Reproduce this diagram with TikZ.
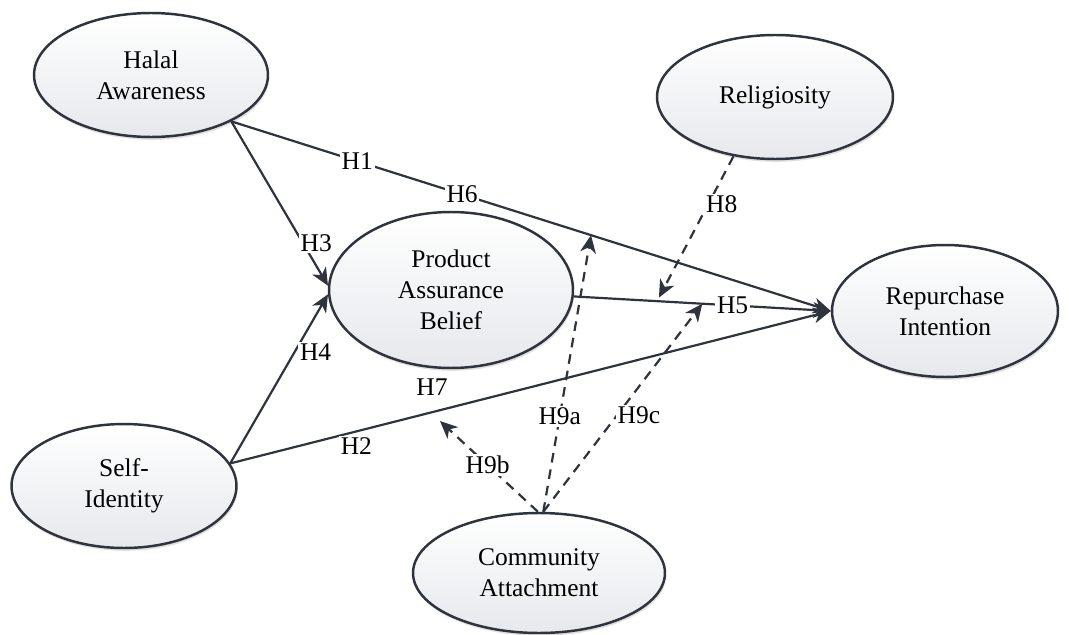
\documentclass[tikz,border=0pt]{standalone}
\usepackage{fontspec}
\setmainfont{Liberation Serif}
\usepackage{xcolor}
\usepackage{tikz}
\usetikzlibrary {positioning}
\usetikzlibrary{arrows.meta,shapes.geometric,shadows}
\definecolor{inkline}{HTML}{2E333D}
\definecolor{ovalbot}{HTML}{E6E8EC}
\tikzset{edge/.style = {draw=inkline, line width=1.25pt, -{Stealth[length=10pt,width=9pt,inset=3pt]}}}

\begin{document}
\begin{tikzpicture}[x=0.02cm,y=-0.02cm,
    main node/.style={ellipse,draw=inkline,line width=1.4pt,top color=white,bottom color=ovalbot,
        drop shadow={opacity=0.25,shadow xshift=0.6pt,shadow yshift=-1.6pt},
        align=center,inner sep=0pt,font=\fontsize{14.5}{17.5}\selectfont},
    lbl/.style={fill=white,inner sep=1pt,font=\fontsize{14.5}{17}\selectfont},
    modline/.style={dash pattern=on 5.5pt off 4pt}]
                \fill[white] (0,0) rectangle (1069,635);
                \useasboundingbox (0,0) rectangle (1069,635);

                \node[main node, minimum width=4.68cm, minimum height=2.48cm] (ha) at (151,75) {Halal\\Awareness};
                \node[main node, minimum width=4.72cm, minimum height=2.48cm] (rel) at (775,97) {Religiosity};
                \node[main node, minimum width=4.88cm, minimum height=3.12cm] (pab) at (451,290) {Product\\Assurance\\Belief};
                \node[main node, minimum width=4.52cm, minimum height=2.64cm] (rep) at (945,311) {Repurchase\\Intention};
                \node[main node, minimum width=4.5cm, minimum height=2.48cm] (si) at (124,486) {Self-\\Identity};
                \node[main node, minimum width=5.04cm, minimum height=2.4cm] (ca) at (539,573) {Community\\Attachment};

                \path[every edge/.style={edge}, every node/.style={lbl}]
                    (ha.-30) edge node [pos=0.21] {H1} node [pos=0.385] {H6}
                        node [coordinate, pos=0.6] (h9aend) {} (rep.west)
                    (ha.-30) edge node [pos=0.74, right=-0.1cm] {H3} (pab.178)
                    (si.12) edge node [pos=0.66, right=0.05cm] {H4} (pab.182)
                    (si.12) edge node [pos=0.336, yshift=0.5cm] {H7} node [pos=0.21, yshift=-0.29cm] {H2}
                        node [coordinate, pos=0.334] (h9bend) {} (rep.west)
                    (pab.-3) edge node [pos=0.618] {H5} node [coordinate, pos=0.324] (h8end) {}
                        node [coordinate, pos=0.5] (h9cend) {} (rep.west)
                    ;

                \path[every edge/.style={edge, modline}, every node/.style={lbl}]
                    (rel.235) edge[shorten >=0.08cm] node [pos=0.33, right=-0.1cm] {H8} (h8end)
                    (ca.86) edge node [pos=0.345] {H9a} (h9aend)
                    (ca.91) edge[shorten >=0.25cm] node [pos=0.47] {H9b} (h9bend)
                    (ca.86) edge node [pos=0.466, right=-0.05cm] {H9c} (h9cend)
                    ;
            \end{tikzpicture}
\end{document}
